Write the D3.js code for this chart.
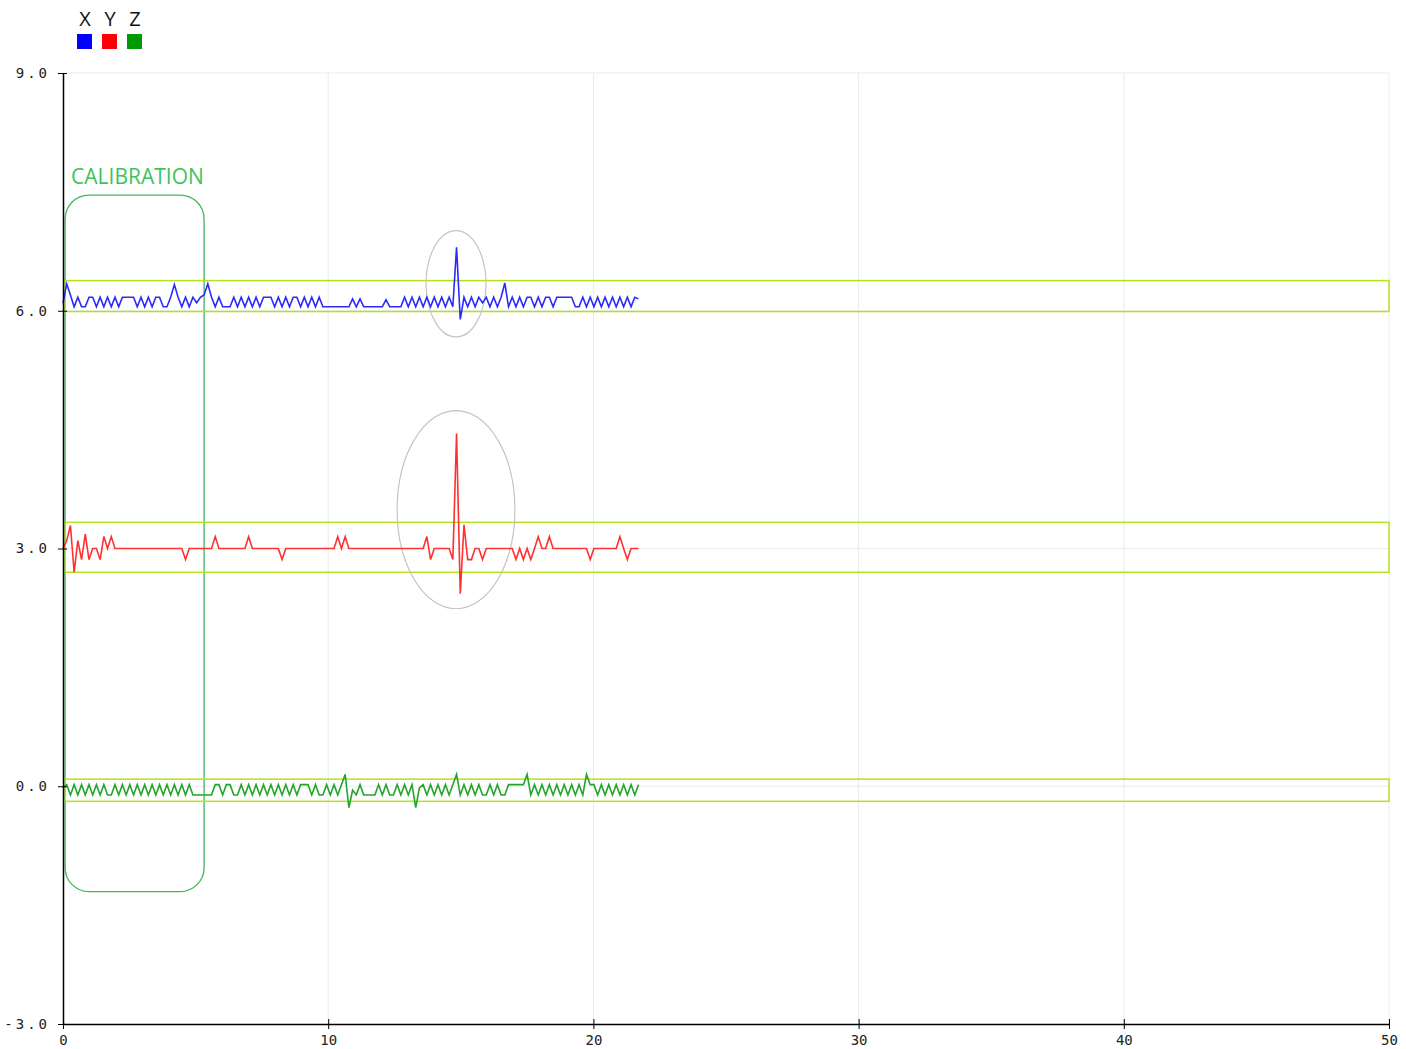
<!DOCTYPE html>
<html>
<head>
<meta charset="utf-8">
<script src="https://cdn.jsdelivr.net/npm/d3@7"></script>
<style>
  body { margin: 0; background: #fff; }
  svg { display: block; }
</style>
</head>
<body>
<svg id="chart"></svg>
<script>
// sample step in seconds (one value every 0.14 s)
const sampleStep = 0.14;

const seriesNames = ["X", "Y", "Z"];
const seriesColors = ["#2a2aff", "#ff3030", "#22a52a"];
const legendColors = ["#0000ff", "#ff0000", "#009900"];

const xValues = [6.10,6.34,6.20,6.05,6.17,6.05,6.05,6.17,6.17,6.05,6.17,6.05,6.17,6.05,6.17,6.05,6.17,6.17,6.17,6.17,
  6.05,6.17,6.05,6.17,6.05,6.17,6.17,6.05,6.05,6.17,6.33,6.17,6.05,6.17,6.05,6.17,6.10,6.17,6.20,6.34,
  6.17,6.05,6.17,6.05,6.05,6.05,6.17,6.05,6.17,6.05,6.17,6.05,6.17,6.05,6.17,6.17,6.17,6.05,6.17,6.05,
  6.17,6.05,6.17,6.17,6.05,6.17,6.05,6.17,6.05,6.17,6.05,6.05,6.05,6.05,6.05,6.05,6.05,6.05,6.15,6.05,
  6.15,6.05,6.05,6.05,6.05,6.05,6.05,6.14,6.05,6.05,6.05,6.05,6.17,6.05,6.17,6.05,6.17,6.05,6.17,6.05,
  6.17,6.05,6.17,6.05,6.17,6.05,6.80,5.89,6.17,6.05,6.17,6.05,6.17,6.10,6.17,6.05,6.17,6.05,6.17,6.35,
  6.05,6.17,6.05,6.17,6.05,6.17,6.17,6.05,6.17,6.05,6.17,6.17,6.05,6.17,6.17,6.17,6.17,6.17,6.05,6.05,
  6.17,6.05,6.17,6.05,6.17,6.05,6.17,6.05,6.17,6.05,6.17,6.05,6.17,6.05,6.17,6.15];

const yValues = [3.00,3.10,3.29,2.70,3.10,2.86,3.18,2.86,3.00,3.00,2.86,3.15,3.00,3.15,3.00,3.00,3.00,3.00,3.00,3.00,
  3.00,3.00,3.00,3.00,3.00,3.00,3.00,3.00,3.00,3.00,3.00,3.00,3.00,2.86,3.00,3.00,3.00,3.00,3.00,3.00,
  3.00,3.15,3.00,3.00,3.00,3.00,3.00,3.00,3.00,3.00,3.15,3.00,3.00,3.00,3.00,3.00,3.00,3.00,3.00,2.86,
  3.00,3.00,3.00,3.00,3.00,3.00,3.00,3.00,3.00,3.00,3.00,3.00,3.00,3.00,3.15,3.00,3.15,3.00,3.00,3.00,
  3.00,3.00,3.00,3.00,3.00,3.00,3.00,3.00,3.00,3.00,3.00,3.00,3.00,3.00,3.00,3.00,3.00,3.00,3.15,2.86,
  3.00,3.00,3.00,3.00,3.00,2.86,4.45,2.43,3.30,2.86,2.86,3.00,3.00,2.86,3.00,3.00,3.00,3.00,3.00,3.00,
  3.00,3.00,2.86,3.00,2.86,3.00,2.86,3.00,3.15,3.00,3.00,3.15,3.00,3.00,3.00,3.00,3.00,3.00,3.00,3.00,
  3.00,3.00,2.86,3.00,3.00,3.00,3.00,3.00,3.00,3.00,3.15,3.00,2.86,3.00,3.00,3.00];

const zValues = [-0.02,0.02,-0.11,0.02,-0.11,0.02,-0.11,0.02,-0.11,0.02,-0.11,0.02,-0.11,-0.11,0.02,-0.11,0.02,-0.11,0.02,-0.11,
  0.02,-0.11,0.02,-0.11,0.02,-0.11,0.02,-0.11,0.02,-0.11,0.02,-0.11,0.02,-0.11,0.02,-0.11,-0.11,-0.11,-0.11,-0.11,
  -0.11,0.02,0.02,-0.11,0.02,0.02,-0.11,-0.11,0.02,-0.11,0.02,-0.11,0.02,-0.11,0.02,-0.11,0.02,-0.11,0.02,-0.11,
  0.02,-0.11,0.02,-0.11,0.02,0.02,0.02,-0.11,0.02,-0.11,-0.11,0.02,-0.11,0.02,-0.11,0.02,0.15,-0.27,-0.05,-0.11,
  0.02,-0.11,-0.11,-0.11,-0.11,0.02,-0.11,0.02,-0.11,-0.11,0.02,-0.11,0.02,-0.11,0.02,-0.27,-0.02,0.02,-0.11,0.02,
  -0.11,0.02,-0.11,0.02,-0.11,0.02,0.15,-0.11,0.02,-0.11,0.02,-0.11,0.02,-0.11,-0.11,0.02,-0.11,0.02,-0.11,-0.11,
  0.02,0.02,0.02,0.02,0.02,0.15,-0.11,0.02,-0.11,0.02,-0.11,0.02,-0.11,0.02,-0.11,0.02,-0.11,0.02,-0.11,0.02,
  -0.11,0.15,0.02,0.02,-0.11,0.02,-0.11,0.02,-0.11,0.02,-0.11,0.02,-0.11,0.02,-0.11,0.02];

const seriesValues = [xValues, yValues, zValues];

const xTicks = [0, 10, 20, 30, 40, 50];
const yTicks = [-3, 0, 3, 6, 9];

// highlight bands around each signal (value ranges)
const bandLow = [5.99, 2.70, -0.19];
const bandHigh = [6.38, 3.33, 0.09];

// calibration window
const calibStart = 0.08, calibEnd = 5.32, calibTop = 7.46, calibBottom = -1.33;
const calibLabel = "CALIBRATION";

// circled peaks: centre time, centre value, half width (s), half height (value)
const peakCx = [14.82, 14.82];
const peakCy = [6.34, 3.49];
const peakRx = [1.13, 2.22];
const peakRy = [0.67, 1.25];

const width = 1406;
const height = 1049;
const margin = {top: 73, right: 17, bottom: 25, left: 63};

const svg = d3.select("#chart")
  .attr("width", width)
  .attr("height", height);

const x = d3.scaleLinear().domain([0, 50]).range([margin.left, width - margin.right]);
const y = d3.scaleLinear().domain([-3, 9]).range([height - margin.bottom, margin.top]);

// grid
svg.append("g")
  .selectAll("line")
  .data(xTicks.slice(1))
  .enter()
  .append("line")
  .attr("x1", d => x(d)).attr("x2", d => x(d))
  .attr("y1", y(9)).attr("y2", y(-3))
  .attr("stroke", "#ebebeb");

svg.append("g")
  .selectAll("line")
  .data(yTicks.slice(1))
  .enter()
  .append("line")
  .attr("x1", x(0)).attr("x2", x(50))
  .attr("y1", d => y(d)).attr("y2", d => y(d))
  .attr("stroke", "#ebebeb");

// calibration box
svg.append("rect")
  .attr("x", x(calibStart))
  .attr("y", y(calibTop))
  .attr("width", x(calibEnd) - x(calibStart))
  .attr("height", y(calibBottom) - y(calibTop))
  .attr("rx", 24).attr("ry", 24)
  .attr("fill", "none")
  .attr("stroke", "#3cb95a")
  .attr("stroke-width", 1.3);

svg.append("text")
  .attr("x", x(calibStart) + 6)
  .attr("y", y(calibTop) - 11)
  .attr("fill", "#3cc45a")
  .attr("font-family", "'Open Sans', sans-serif")
  .attr("font-size", 21)
  .text(calibLabel);

// bands
svg.append("g")
  .selectAll("rect")
  .data(bandLow)
  .enter()
  .append("rect")
  .attr("x", x(0.08))
  .attr("y", (d, i) => y(bandHigh[i]))
  .attr("width", x(50) - x(0.08))
  .attr("height", (d, i) => y(d) - y(bandHigh[i]))
  .attr("fill", "none")
  .attr("stroke", "#b4e31e")
  .attr("stroke-width", 1.5);

// ellipses
svg.append("g")
  .selectAll("ellipse")
  .data(peakCx)
  .enter()
  .append("ellipse")
  .attr("cx", d => x(d))
  .attr("cy", (d, i) => y(peakCy[i]))
  .attr("rx", (d, i) => x(peakRx[i]) - x(0))
  .attr("ry", (d, i) => y(0) - y(peakRy[i]))
  .attr("fill", "none")
  .attr("stroke", "#c4c4c4")
  .attr("stroke-width", 1.2);

// lines
const line = d3.line()
  .x((d, i) => x(i * sampleStep))
  .y(d => y(d));

svg.append("g")
  .selectAll("path")
  .data(seriesValues)
  .enter()
  .append("path")
  .attr("d", d => line(d))
  .attr("fill", "none")
  .attr("stroke", (d, i) => seriesColors[i])
  .attr("stroke-width", 1.6)
  .attr("stroke-linejoin", "miter");

// axes
const xAxis = svg.append("g")
  .attr("transform", `translate(0,${y(-3)})`)
  .call(d3.axisBottom(x).tickValues(xTicks).tickSize(5).tickSizeOuter(0));
xAxis.select(".domain").attr("stroke", "#000").attr("stroke-width", 1.5);
xAxis.selectAll(".tick line").attr("y1", -5).attr("stroke", "#000");
xAxis.selectAll("text")
  .attr("y", 11)
  .attr("font-family", "'DejaVu Sans Mono', monospace")
  .attr("font-size", 14)
  .attr("fill", "#222");

const yAxis = svg.append("g")
  .attr("transform", `translate(${x(0)},0)`)
  .call(d3.axisLeft(y).tickValues(yTicks).tickFormat(d3.format(".1f")).tickSize(5).tickSizeOuter(0));
yAxis.select(".domain").attr("stroke", "#000").attr("stroke-width", 1.5);
yAxis.selectAll(".tick line").attr("x1", -5).attr("x2", 4).attr("stroke", "#000");
yAxis.selectAll("text")
  .attr("x", -13)
  .attr("font-family", "'DejaVu Sans Mono', monospace")
  .attr("font-size", 14)
  .attr("letter-spacing", 3)
  .attr("fill", "#222")
  .text(d => d3.format(".1f")(d).replace("−", "-"));

// legend
const legend = svg.append("g")
  .selectAll("g")
  .data(seriesNames)
  .enter()
  .append("g")
  .attr("transform", (d, i) => `translate(${77 + i * 25},0)`);

legend.append("text")
  .attr("x", 8)
  .attr("y", 26)
  .attr("text-anchor", "middle")
  .attr("font-family", "'Open Sans', sans-serif")
  .attr("font-size", 20)
  .attr("fill", "#111")
  .text(d => d);

legend.append("rect")
  .attr("x", 0)
  .attr("y", 34)
  .attr("width", 15)
  .attr("height", 15)
  .attr("fill", (d, i) => legendColors[i]);
</script>
</body>
</html>
